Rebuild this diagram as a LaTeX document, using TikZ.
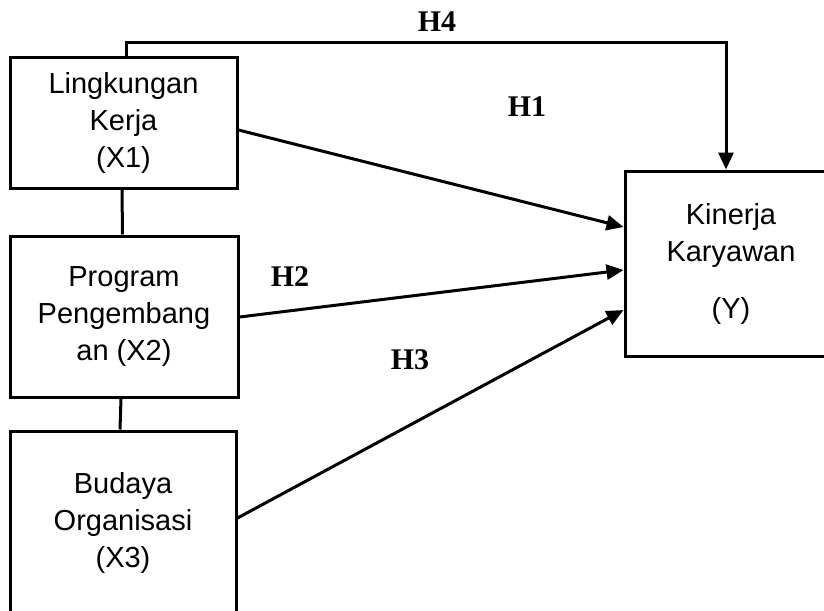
\documentclass[tikz,border=0pt]{standalone}
\usepackage{fontspec}
\setmainfont{Liberation Sans}
\newfontfamily\hfont{Liberation Serif}
\usetikzlibrary{arrows.meta,calc}
\begin{document}
\begin{tikzpicture}[x=1pt,y=-1pt,
  box/.style={draw,line width=3pt,rectangle,inner sep=0pt,align=center,
    font=\fontsize{29}{37}\selectfont},
  hlab/.style={font=\hfont\bfseries\fontsize{30}{36}\selectfont,inner sep=0pt},
  conn/.style={line width=3pt},
  arr/.style={line width=3pt,-{Triangle[length=17pt,width=15pt]}}]
\useasboundingbox (0,0) rectangle (824,610);
\node[box,minimum width=227pt,minimum height=130pt] (x1) at (123.5,123) {Lingkungan\\Kerja\\(X1)};
\node[box,minimum width=228pt,minimum height=161pt] (x2) at (124,316.5) {Program\\Pengembang\\an (X2)};
\node[box,minimum width=226pt,minimum height=184pt] (x3) at (123,523) {Budaya\\Organisasi\\(X3)};
\node[box,minimum width=212pt,minimum height=185pt] (y) at (731,263.5) {Kinerja\\Karyawan\\[20pt](Y)};
\coordinate (t4) at (126,43);
\draw[conn] ([xshift=-1.5pt]x1.south) -- ([xshift=-1.5pt]x2.north);
\draw[conn] ([xshift=-3pt]x2.south) -- ([xshift=-3pt]x3.north);
\draw[arr] ([xshift=2.5pt]x1.north) -- (t4) -| ([xshift=-5pt]y.north);
\draw[arr] ([yshift=-7pt]x1.east) -- ([yshift=36.5pt]y.west);
\draw[arr] ([yshift=-0.5pt]x2.east) -- ([yshift=-6.5pt]y.west);
\draw[arr] ([yshift=5pt]x3.east) -- ([yshift=-46.5pt]y.west);
\node[hlab] (h4) at (437,22) {H4};
\node[hlab] (h1) at (527,107) {H1};
\node[hlab] (h2) at (290,277) {H2};
\node[hlab] (h3) at (410,360) {H3};
\end{tikzpicture}
\end{document}
